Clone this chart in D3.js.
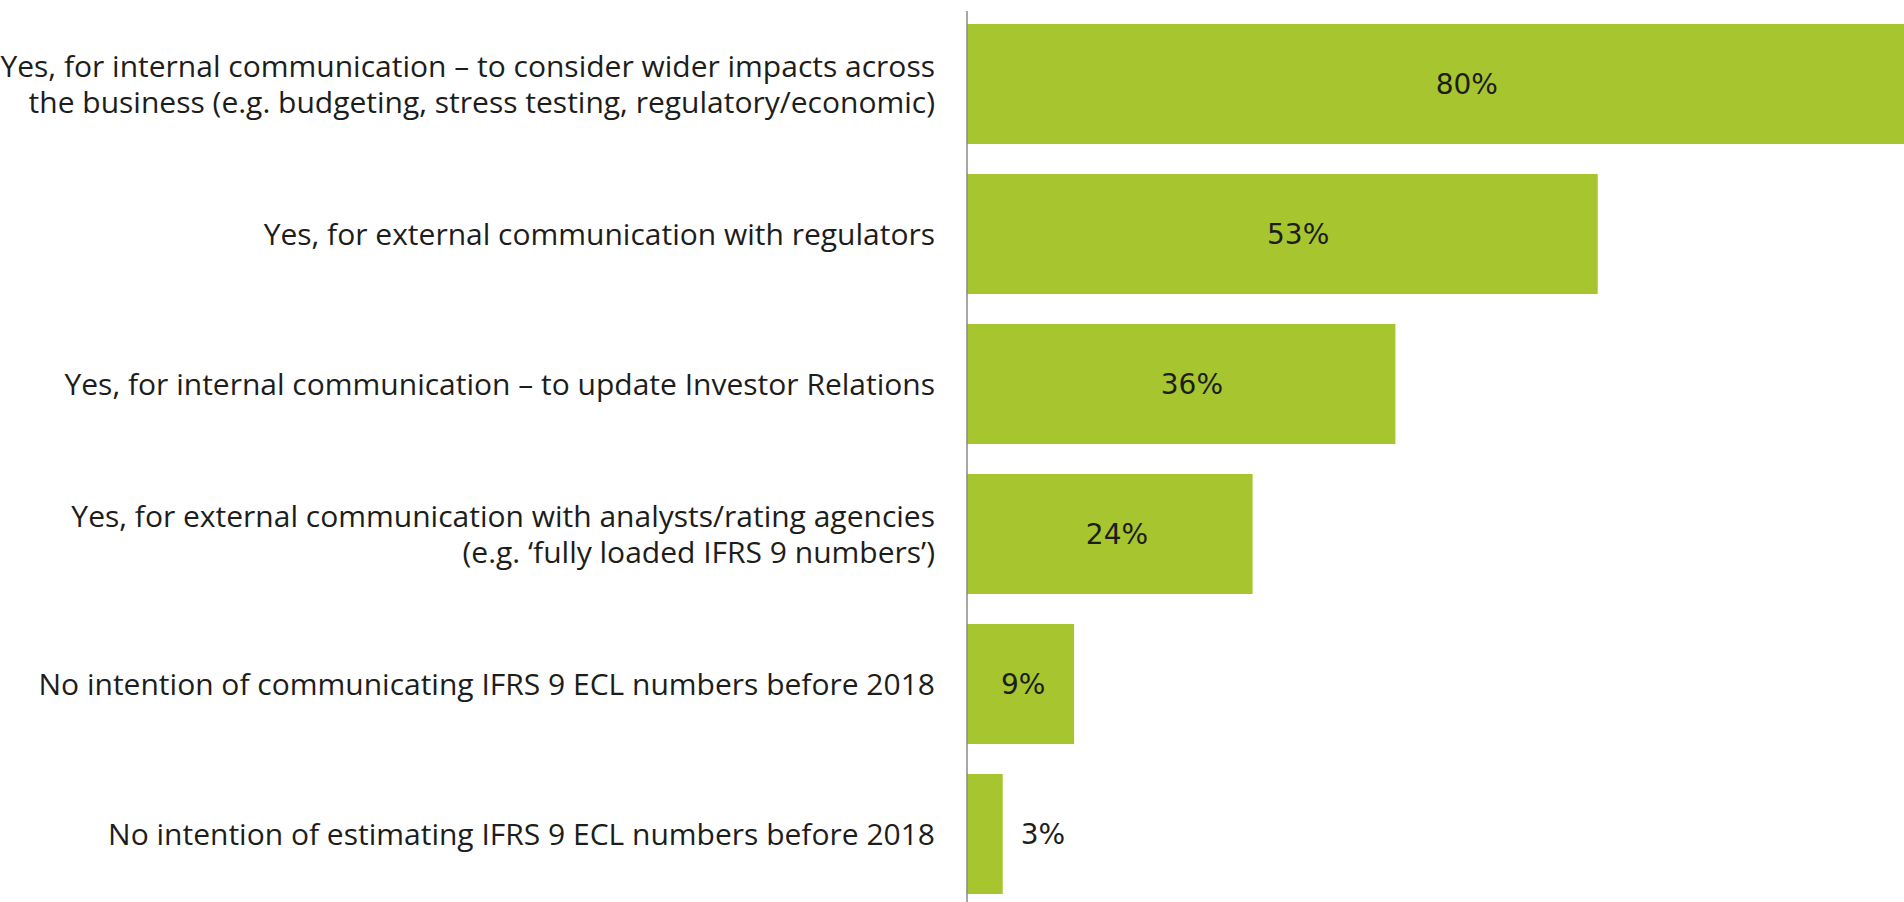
<!DOCTYPE html>
<html>
<head>
<meta charset="utf-8">
<title>IFRS 9 ECL communication</title>
<style>
    body { margin: 0; background: #fff; overflow: hidden; }
    .bar { fill: #a6c52e; }
    .axisline { stroke: #888; stroke-width: 1.5px; }
    .catlabel { font-family: "Open Sans", sans-serif; font-size: 30px; fill: #1d1d1b; }
    .vallabel { font-family: "DejaVu Sans", sans-serif; font-size: 28px; fill: #1d1d1b; }
</style>
</head>
<body>
<script src="https://cdn.jsdelivr.net/npm/d3@7"></script>
<script>

// answers (one entry per bar, label lines split where the original wraps)
var categories = [
    ["Yes, for internal communication \u2013 to consider wider impacts across",
     "the business (e.g. budgeting, stress testing, regulatory/economic)"],
    ["Yes, for external communication with regulators"],
    ["Yes, for internal communication \u2013 to update Investor Relations"],
    ["Yes, for external communication with analysts/rating agencies",
     "(e.g. \u2018fully loaded IFRS 9 numbers\u2019)"],
    ["No intention of communicating IFRS 9 ECL numbers before 2018"],
    ["No intention of estimating IFRS 9 ECL numbers before 2018"]
];
var values = [80, 53, 36, 24, 9, 3];

var W = 1904, H = 902;
var axisX = 967, labelGap = 32, lineH = 36;

var svg = d3.select("body").append("svg")
        .attr("width", W)
        .attr("height", H);

var y = d3.scaleBand()
        .domain(d3.range(values.length))
        .range([9, 909])
        .paddingInner(0.2)
        .paddingOuter(0.1);

var x = d3.scaleLinear()
        .domain([0, 100])
        .range([axisX, axisX + 1190]);

//bars
svg.selectAll(".bar")
        .data(values)
        .enter().append("rect")
        .attr("class", "bar")
        .attr("x", x(0))
        .attr("y", function(d, i) { return y(i); })
        .attr("width", function(d) { return x(d) - x(0); })
        .attr("height", y.bandwidth());

//vertical baseline
svg.append("line")
        .attr("class", "axisline")
        .attr("x1", axisX).attr("x2", axisX)
        .attr("y1", 11).attr("y2", H);

//category labels, right aligned against the axis
var cat = svg.selectAll(".catlabel")
        .data(categories)
        .enter().append("text")
        .attr("class", "catlabel")
        .attr("text-anchor", "end")
        .attr("x", axisX - labelGap)
        .attr("y", function(d, i) { return y(i) + y.bandwidth() / 2; });

cat.selectAll("tspan")
        .data(function(d) { return d; })
        .enter().append("tspan")
        .attr("x", axisX - labelGap)
        .attr("dy", function(d, j, nodes) {
            return j === 0 ? (-(nodes.length - 1) * lineH / 2 + 11) : lineH; })
        .text(function(d) { return d; });

//value labels: inside the bar, or just past its end when the bar is too short
svg.selectAll(".vallabel")
        .data(values)
        .enter().append("text")
        .attr("class", "vallabel")
        .attr("text-anchor", function(d) { return d < 5 ? "start" : "middle"; })
        .attr("x", function(d) {
            return d < 5 ? x(d) + 18 : x(0) + (x(d) - x(0)) * 0.525; })
        .attr("y", function(d, i) { return y(i) + y.bandwidth() / 2 + 10; })
        .text(function(d) { return d + "%"; });

</script>
</body>
</html>
